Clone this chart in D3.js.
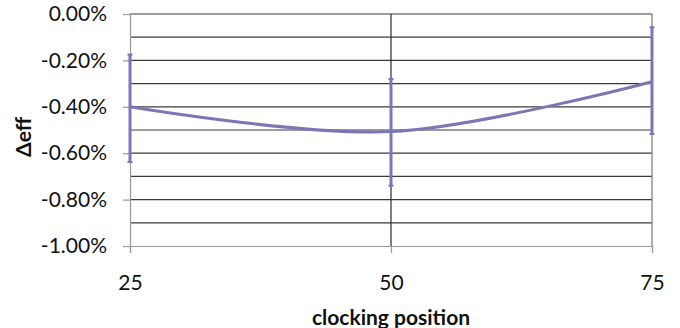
<!DOCTYPE html>
<html>
<head>
<meta charset="utf-8">
<script src="https://cdn.jsdelivr.net/npm/d3@7"></script>
<style>
  body { margin: 0; background: #fff; }
  text { font-family: Lato, "Open Sans", sans-serif; }
</style>
</head>
<body>
<div id="chart"></div>
<script>
// data (values in %)
const positions = [25, 50, 75]
const deltaEff = [-0.40, -0.507, -0.292]
const errUpper = [-0.175, -0.28, -0.057]
const errLower = [-0.638, -0.74, -0.517]
const yTicks = [0, -0.2, -0.4, -0.6, -0.8, -1.0]
const yGrid = d3.range(0, 11).map(i => -i / 10)

const dimensions = {
  width: 680,
  height: 328,
  margin: { top: 14, bottom: 82, left: 130, right: 28 }
}

const svg = d3.select('#chart')
  .append('svg')
  .attr('width', dimensions.width)
  .attr('height', dimensions.height)

const w = dimensions.width - dimensions.margin.left - dimensions.margin.right
const h = dimensions.height - dimensions.margin.top - dimensions.margin.bottom

const container = svg.append('g')
  .attr('transform', `translate(${dimensions.margin.left},${dimensions.margin.top})`)

const xScale = d3.scaleLinear().domain([25, 75]).range([0, w])
const yScale = d3.scaleLinear().domain([-1, 0]).range([h, 0])

// horizontal gridlines
container.selectAll('.hgrid')
  .data(yGrid.filter(v => v > -1))
  .join('line')
  .attr('x1', 0).attr('x2', w)
  .attr('y1', d => yScale(d)).attr('y2', d => yScale(d))
  .attr('stroke', '#3a3a3a')
  .attr('stroke-width', 1.2)

// vertical gridline at 50 and right border
container.append('line')
  .attr('x1', xScale(50)).attr('x2', xScale(50))
  .attr('y1', 0).attr('y2', h)
  .attr('stroke', '#2a2a2a').attr('stroke-width', 1.2)
container.append('line')
  .attr('x1', w).attr('x2', w)
  .attr('y1', 0).attr('y2', h)
  .attr('stroke', '#777').attr('stroke-width', 1.2)

// Y axis
const yAxis = d3.axisLeft(yScale)
  .tickValues(yTicks)
  .tickSize(7)
  .tickFormat(d => d.toFixed(2) + '%')
const yAxisGroup = container.append('g').call(yAxis)
yAxisGroup.select('.domain').attr('stroke', '#999').attr('stroke-width', 1.2)
yAxisGroup.selectAll('.tick line').attr('stroke', '#999').attr('stroke-width', 1.2)
yAxisGroup.selectAll('.tick text')
  .attr('x', -23)
  .attr('font-size', '21px')
  .attr('fill', '#111')
  .attr('font-family', 'Lato')

// X axis
const xAxis = d3.axisBottom(xScale)
  .tickValues(positions)
  .tickSize(7)
  .tickFormat(d3.format('d'))
const xAxisGroup = container.append('g')
  .attr('transform', `translate(0,${h})`)
  .call(xAxis)
xAxisGroup.select('.domain').attr('stroke', '#999').attr('stroke-width', 1.2)
xAxisGroup.selectAll('.tick line').attr('stroke', '#999').attr('stroke-width', 1.2)
xAxisGroup.selectAll('.tick text')
  .attr('y', 29)
  .attr('font-size', '21px')
  .attr('fill', '#111')
  .attr('font-family', 'Lato')

// axis titles
svg.append('text')
  .attr('x', dimensions.margin.left + xScale(50))
  .attr('y', 325)
  .attr('text-anchor', 'middle')
  .attr('font-size', '21px')
  .attr('font-weight', 'bold')
  .attr('fill', '#111')
  .text('clocking position')

svg.append('text')
  .attr('transform', `translate(31,${dimensions.margin.top + h / 2 + 7}) rotate(-90)`)
  .attr('text-anchor', 'middle')
  .attr('font-size', '21px')
  .attr('font-weight', 'bold')
  .attr('fill', '#111')
  .text('Δeff')

const lineColor = '#7b77b5'

// error bars
const errs = positions.map((p, i) => ({ p, hi: errUpper[i], lo: errLower[i] }))
container.selectAll('.err')
  .data(errs)
  .join('line')
  .attr('x1', d => xScale(d.p)).attr('x2', d => xScale(d.p))
  .attr('y1', d => yScale(d.hi)).attr('y2', d => yScale(d.lo))
  .attr('stroke', lineColor)
  .attr('stroke-width', 3)
container.selectAll('.cap')
  .data(errs.flatMap(d => [{ p: d.p, v: d.hi }, { p: d.p, v: d.lo }]))
  .join('line')
  .attr('x1', d => xScale(d.p) - 2.5).attr('x2', d => xScale(d.p) + 2.5)
  .attr('y1', d => yScale(d.v)).attr('y2', d => yScale(d.v))
  .attr('stroke', lineColor)
  .attr('stroke-width', 2)

// smoothed line
const line = d3.line()
  .x((d, i) => xScale(positions[i]))
  .y(d => yScale(d))
  .curve(d3.curveCardinal.tension(0))
container.append('path')
  .datum(deltaEff)
  .attr('d', line)
  .attr('fill', 'none')
  .attr('stroke', lineColor)
  .attr('stroke-width', 3)
</script>
</body>
</html>
